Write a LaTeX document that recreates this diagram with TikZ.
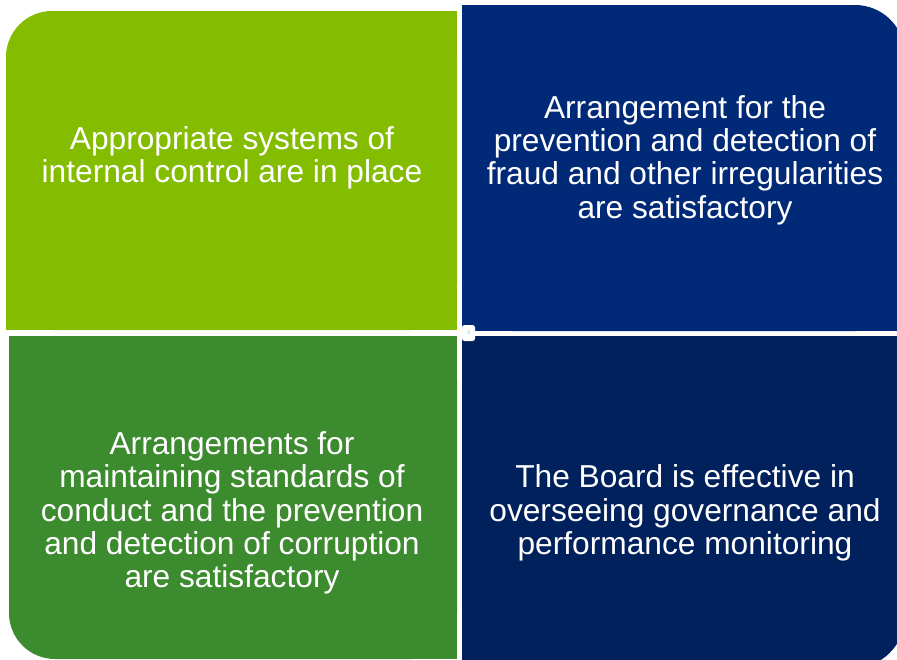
\documentclass[tikz,border=0pt]{standalone}
\usepackage{fontspec}
\setmainfont{Liberation Sans}
\definecolor{lgreen}{RGB}{132,189,0}
\definecolor{dgreen}{RGB}{61,139,47}
\definecolor{tblue}{RGB}{0,42,120}
\definecolor{bblue}{RGB}{1,33,93}
\definecolor{numgray}{RGB}{140,170,200}
\tikzset{
  boxtext/.style={text=white, align=center, font=\fontsize{31.7}{33.3}\selectfont, inner sep=0pt},
}
\begin{document}
\begin{tikzpicture}[x=1pt,y=-1pt]
\useasboundingbox (0,0) rectangle (897,659);
% top-left
\fill[lgreen, rounded corners=46pt] (6,11) rectangle (457,330);
\fill[lgreen] (80,11) rectangle (457,330);
\fill[lgreen] (6,80) rectangle (457,330);
% top-right
\fill[tblue, rounded corners=50pt] (462,5) rectangle (905,331);
\fill[tblue] (462,5) rectangle (820,331);
\fill[tblue] (462,90) rectangle (905,331);
% bottom-left
\fill[dgreen, rounded corners=46pt] (9,336) rectangle (457,659);
\fill[dgreen] (9,336) rectangle (457,580);
\fill[dgreen] (80,336) rectangle (457,659);
% bottom-right
\fill[bblue, rounded corners=52pt] (462,336) rectangle (905,668);
\fill[bblue] (462,336) rectangle (905,580);
\fill[bblue] (462,336) rectangle (820,668);
% texts
\node[boxtext] (tl) at (232,158) {Appropriate systems of\\internal control are in place};
\node[boxtext] (tr) at (685,160) {Arrangement for the\\prevention and detection of\\fraud and other irregularities\\are satisfactory};
\node[boxtext] (bl) at (232,513) {Arrangements for\\maintaining standards of\\conduct and the prevention\\and detection of corruption\\are satisfactory};
\node[boxtext] (br) at (685,513) {The Board is effective in\\overseeing governance and\\performance monitoring};
% slide number
\node[fill=white, rounded corners=2.5pt, minimum width=13pt, minimum height=16pt, inner sep=0pt, text=numgray, font=\fontsize{5}{6}\selectfont] (num) at (468.5,333) {3};
\end{tikzpicture}
\end{document}
